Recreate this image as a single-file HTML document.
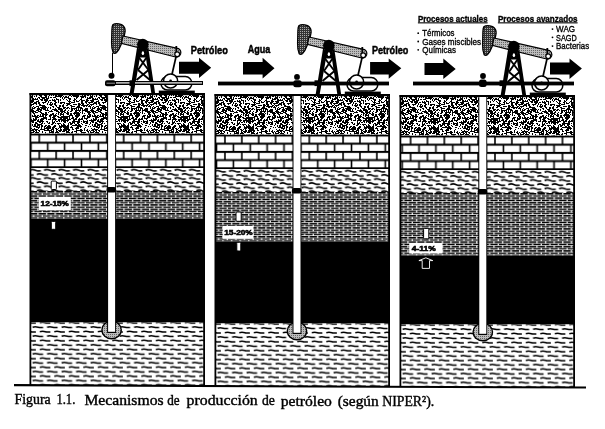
<!DOCTYPE html>
<html><head><meta charset="utf-8"><style>
html,body{margin:0;padding:0;background:#fff;overflow:hidden}
svg{display:block;filter:grayscale(1)}
text{white-space:pre}
</style></head><body>
<svg width="605" height="429" viewBox="0 0 605 429">

<defs>
<pattern id="gran" patternUnits="userSpaceOnUse" width="60" height="40" x="0" y="95">
<rect width="60" height="40" fill="#fff"/><path d="M0 0h3v1h-3zM9 0h2v1h-2zM12 0h7v1h-7zM22 0h1v1h-1zM24 0h2v1h-2zM27 0h2v1h-2zM30 0h1v1h-1zM32 0h1v1h-1zM36 0h1v1h-1zM39 0h3v1h-3zM44 0h3v1h-3zM49 0h1v1h-1zM51 0h1v1h-1zM53 0h1v1h-1zM55 0h2v1h-2zM58 0h2v1h-2zM0 1h2v1h-2zM3 1h1v1h-1zM5 1h2v1h-2zM8 1h1v1h-1zM11 1h1v1h-1zM13 1h6v1h-6zM20 1h6v1h-6zM30 1h3v1h-3zM34 1h1v1h-1zM36 1h1v1h-1zM40 1h2v1h-2zM45 1h2v1h-2zM48 1h1v1h-1zM55 1h5v1h-5zM0 2h1v1h-1zM2 2h1v1h-1zM4 2h5v1h-5zM16 2h2v1h-2zM21 2h3v1h-3zM25 2h1v1h-1zM27 2h1v1h-1zM29 2h4v1h-4zM38 2h2v1h-2zM41 2h6v1h-6zM48 2h1v1h-1zM50 2h2v1h-2zM53 2h3v1h-3zM2 3h1v1h-1zM4 3h1v1h-1zM8 3h3v1h-3zM14 3h1v1h-1zM16 3h1v1h-1zM21 3h1v1h-1zM27 3h4v1h-4zM32 3h2v1h-2zM35 3h1v1h-1zM37 3h1v1h-1zM39 3h1v1h-1zM42 3h3v1h-3zM46 3h3v1h-3zM56 3h1v1h-1zM0 4h1v1h-1zM3 4h1v1h-1zM6 4h1v1h-1zM9 4h2v1h-2zM14 4h2v1h-2zM20 4h2v1h-2zM26 4h2v1h-2zM32 4h6v1h-6zM40 4h3v1h-3zM44 4h4v1h-4zM52 4h1v1h-1zM54 4h1v1h-1zM56 4h3v1h-3zM0 5h1v1h-1zM7 5h1v1h-1zM9 5h1v1h-1zM13 5h2v1h-2zM16 5h1v1h-1zM19 5h1v1h-1zM21 5h4v1h-4zM26 5h3v1h-3zM30 5h4v1h-4zM38 5h1v1h-1zM41 5h2v1h-2zM44 5h4v1h-4zM49 5h2v1h-2zM52 5h4v1h-4zM58 5h1v1h-1zM8 6h3v1h-3zM14 6h1v1h-1zM16 6h3v1h-3zM21 6h2v1h-2zM25 6h3v1h-3zM31 6h3v1h-3zM36 6h3v1h-3zM45 6h2v1h-2zM48 6h1v1h-1zM54 6h2v1h-2zM58 6h1v1h-1zM0 7h5v1h-5zM9 7h1v1h-1zM11 7h4v1h-4zM21 7h2v1h-2zM25 7h2v1h-2zM28 7h5v1h-5zM34 7h3v1h-3zM38 7h2v1h-2zM42 7h4v1h-4zM48 7h1v1h-1zM50 7h2v1h-2zM55 7h2v1h-2zM58 7h1v1h-1zM0 8h2v1h-2zM4 8h1v1h-1zM6 8h5v1h-5zM18 8h2v1h-2zM21 8h3v1h-3zM26 8h1v1h-1zM29 8h1v1h-1zM33 8h4v1h-4zM38 8h2v1h-2zM43 8h1v1h-1zM47 8h1v1h-1zM50 8h1v1h-1zM52 8h1v1h-1zM54 8h2v1h-2zM3 9h1v1h-1zM7 9h3v1h-3zM13 9h4v1h-4zM18 9h3v1h-3zM22 9h2v1h-2zM27 9h2v1h-2zM30 9h4v1h-4zM36 9h1v1h-1zM39 9h2v1h-2zM47 9h1v1h-1zM49 9h4v1h-4zM54 9h2v1h-2zM0 10h1v1h-1zM2 10h2v1h-2zM6 10h2v1h-2zM10 10h2v1h-2zM18 10h2v1h-2zM21 10h7v1h-7zM29 10h1v1h-1zM31 10h1v1h-1zM39 10h6v1h-6zM50 10h2v1h-2zM55 10h2v1h-2zM59 10h1v1h-1zM0 11h1v1h-1zM2 11h2v1h-2zM11 11h4v1h-4zM17 11h3v1h-3zM23 11h2v1h-2zM26 11h1v1h-1zM28 11h3v1h-3zM33 11h1v1h-1zM36 11h3v1h-3zM42 11h4v1h-4zM52 11h2v1h-2zM56 11h1v1h-1zM59 11h1v1h-1zM3 12h3v1h-3zM7 12h2v1h-2zM11 12h1v1h-1zM16 12h6v1h-6zM30 12h1v1h-1zM32 12h1v1h-1zM34 12h2v1h-2zM38 12h1v1h-1zM40 12h7v1h-7zM48 12h1v1h-1zM50 12h1v1h-1zM53 12h1v1h-1zM57 12h3v1h-3zM0 13h2v1h-2zM3 13h2v1h-2zM6 13h2v1h-2zM9 13h1v1h-1zM11 13h6v1h-6zM18 13h1v1h-1zM20 13h3v1h-3zM25 13h3v1h-3zM30 13h1v1h-1zM32 13h3v1h-3zM37 13h3v1h-3zM41 13h5v1h-5zM47 13h1v1h-1zM50 13h1v1h-1zM55 13h1v1h-1zM58 13h2v1h-2zM0 14h3v1h-3zM5 14h1v1h-1zM11 14h2v1h-2zM14 14h1v1h-1zM16 14h1v1h-1zM18 14h1v1h-1zM20 14h1v1h-1zM22 14h1v1h-1zM24 14h4v1h-4zM31 14h2v1h-2zM37 14h5v1h-5zM43 14h3v1h-3zM47 14h1v1h-1zM52 14h5v1h-5zM58 14h2v1h-2zM0 15h3v1h-3zM4 15h2v1h-2zM8 15h1v1h-1zM11 15h2v1h-2zM15 15h6v1h-6zM22 15h6v1h-6zM30 15h4v1h-4zM36 15h3v1h-3zM40 15h2v1h-2zM45 15h4v1h-4zM51 15h1v1h-1zM54 15h4v1h-4zM0 16h5v1h-5zM7 16h1v1h-1zM10 16h2v1h-2zM15 16h2v1h-2zM19 16h1v1h-1zM22 16h1v1h-1zM25 16h5v1h-5zM31 16h5v1h-5zM38 16h3v1h-3zM49 16h4v1h-4zM56 16h3v1h-3zM1 17h2v1h-2zM4 17h2v1h-2zM7 17h2v1h-2zM14 17h5v1h-5zM20 17h1v1h-1zM22 17h1v1h-1zM27 17h4v1h-4zM32 17h2v1h-2zM35 17h3v1h-3zM40 17h2v1h-2zM45 17h2v1h-2zM48 17h1v1h-1zM58 17h2v1h-2zM0 18h2v1h-2zM3 18h1v1h-1zM6 18h3v1h-3zM10 18h2v1h-2zM13 18h7v1h-7zM22 18h1v1h-1zM24 18h1v1h-1zM28 18h2v1h-2zM33 18h2v1h-2zM41 18h3v1h-3zM45 18h2v1h-2zM52 18h2v1h-2zM56 18h1v1h-1zM58 18h1v1h-1zM0 19h4v1h-4zM7 19h2v1h-2zM10 19h2v1h-2zM14 19h1v1h-1zM16 19h4v1h-4zM28 19h3v1h-3zM34 19h1v1h-1zM40 19h1v1h-1zM42 19h6v1h-6zM50 19h4v1h-4zM55 19h1v1h-1zM58 19h1v1h-1zM0 20h1v1h-1zM3 20h1v1h-1zM9 20h4v1h-4zM15 20h5v1h-5zM23 20h3v1h-3zM27 20h1v1h-1zM29 20h2v1h-2zM32 20h1v1h-1zM34 20h2v1h-2zM37 20h2v1h-2zM40 20h1v1h-1zM42 20h2v1h-2zM45 20h2v1h-2zM49 20h3v1h-3zM53 20h4v1h-4zM1 21h9v1h-9zM12 21h1v1h-1zM15 21h4v1h-4zM22 21h3v1h-3zM27 21h4v1h-4zM32 21h6v1h-6zM39 21h5v1h-5zM45 21h1v1h-1zM49 21h2v1h-2zM53 21h3v1h-3zM57 21h2v1h-2zM0 22h8v1h-8zM9 22h1v1h-1zM12 22h2v1h-2zM16 22h2v1h-2zM22 22h1v1h-1zM24 22h1v1h-1zM27 22h3v1h-3zM35 22h4v1h-4zM43 22h4v1h-4zM50 22h1v1h-1zM52 22h3v1h-3zM58 22h2v1h-2zM0 23h2v1h-2zM3 23h5v1h-5zM9 23h1v1h-1zM11 23h3v1h-3zM15 23h2v1h-2zM19 23h1v1h-1zM21 23h2v1h-2zM24 23h4v1h-4zM33 23h1v1h-1zM35 23h2v1h-2zM41 23h6v1h-6zM50 23h1v1h-1zM53 23h3v1h-3zM0 24h6v1h-6zM7 24h4v1h-4zM13 24h4v1h-4zM18 24h5v1h-5zM26 24h1v1h-1zM31 24h1v1h-1zM33 24h4v1h-4zM38 24h1v1h-1zM40 24h4v1h-4zM46 24h1v1h-1zM48 24h3v1h-3zM52 24h5v1h-5zM58 24h2v1h-2zM1 25h8v1h-8zM13 25h2v1h-2zM18 25h2v1h-2zM23 25h1v1h-1zM27 25h1v1h-1zM29 25h7v1h-7zM37 25h2v1h-2zM40 25h3v1h-3zM52 25h1v1h-1zM55 25h1v1h-1zM58 25h2v1h-2zM1 26h1v1h-1zM3 26h3v1h-3zM7 26h1v1h-1zM12 26h8v1h-8zM21 26h1v1h-1zM23 26h5v1h-5zM31 26h3v1h-3zM37 26h7v1h-7zM46 26h2v1h-2zM52 26h1v1h-1zM54 26h1v1h-1zM56 26h2v1h-2zM59 26h1v1h-1zM4 27h2v1h-2zM9 27h2v1h-2zM12 27h3v1h-3zM17 27h3v1h-3zM23 27h2v1h-2zM26 27h2v1h-2zM30 27h1v1h-1zM32 27h2v1h-2zM35 27h2v1h-2zM39 27h2v1h-2zM42 27h1v1h-1zM47 27h1v1h-1zM49 27h1v1h-1zM52 27h3v1h-3zM0 28h1v1h-1zM3 28h1v1h-1zM8 28h1v1h-1zM10 28h3v1h-3zM14 28h1v1h-1zM17 28h2v1h-2zM21 28h1v1h-1zM25 28h3v1h-3zM30 28h1v1h-1zM35 28h3v1h-3zM41 28h2v1h-2zM44 28h1v1h-1zM48 28h2v1h-2zM52 28h2v1h-2zM55 28h1v1h-1zM57 28h3v1h-3zM1 29h1v1h-1zM3 29h2v1h-2zM8 29h1v1h-1zM10 29h2v1h-2zM15 29h2v1h-2zM18 29h2v1h-2zM22 29h1v1h-1zM29 29h1v1h-1zM32 29h1v1h-1zM34 29h2v1h-2zM37 29h5v1h-5zM51 29h2v1h-2zM58 29h1v1h-1zM1 30h5v1h-5zM7 30h2v1h-2zM12 30h9v1h-9zM25 30h2v1h-2zM32 30h1v1h-1zM34 30h2v1h-2zM37 30h3v1h-3zM41 30h2v1h-2zM45 30h2v1h-2zM48 30h2v1h-2zM54 30h2v1h-2zM59 30h1v1h-1zM0 31h9v1h-9zM11 31h1v1h-1zM17 31h5v1h-5zM28 31h1v1h-1zM30 31h1v1h-1zM33 31h5v1h-5zM39 31h1v1h-1zM41 31h2v1h-2zM44 31h2v1h-2zM47 31h4v1h-4zM53 31h3v1h-3zM59 31h1v1h-1zM0 32h2v1h-2zM3 32h6v1h-6zM10 32h3v1h-3zM16 32h3v1h-3zM20 32h1v1h-1zM25 32h1v1h-1zM36 32h4v1h-4zM41 32h1v1h-1zM44 32h1v1h-1zM46 32h5v1h-5zM52 32h3v1h-3zM59 32h1v1h-1zM0 33h1v1h-1zM4 33h5v1h-5zM12 33h1v1h-1zM15 33h4v1h-4zM24 33h1v1h-1zM31 33h1v1h-1zM34 33h1v1h-1zM38 33h1v1h-1zM41 33h1v1h-1zM44 33h7v1h-7zM52 33h2v1h-2zM55 33h2v1h-2zM58 33h1v1h-1zM0 34h2v1h-2zM3 34h7v1h-7zM12 34h2v1h-2zM16 34h1v1h-1zM20 34h2v1h-2zM24 34h1v1h-1zM27 34h1v1h-1zM32 34h6v1h-6zM40 34h5v1h-5zM47 34h2v1h-2zM51 34h3v1h-3zM56 34h2v1h-2zM0 35h2v1h-2zM3 35h4v1h-4zM8 35h2v1h-2zM16 35h7v1h-7zM24 35h1v1h-1zM26 35h2v1h-2zM29 35h1v1h-1zM31 35h3v1h-3zM35 35h2v1h-2zM38 35h2v1h-2zM44 35h8v1h-8zM53 35h1v1h-1zM56 35h1v1h-1zM58 35h2v1h-2zM0 36h1v1h-1zM2 36h3v1h-3zM6 36h3v1h-3zM12 36h1v1h-1zM14 36h3v1h-3zM20 36h2v1h-2zM27 36h2v1h-2zM30 36h1v1h-1zM33 36h2v1h-2zM36 36h1v1h-1zM39 36h1v1h-1zM42 36h1v1h-1zM49 36h1v1h-1zM51 36h3v1h-3zM56 36h2v1h-2zM59 36h1v1h-1zM6 37h4v1h-4zM11 37h2v1h-2zM16 37h1v1h-1zM21 37h5v1h-5zM28 37h1v1h-1zM30 37h4v1h-4zM35 37h4v1h-4zM42 37h1v1h-1zM45 37h1v1h-1zM49 37h5v1h-5zM55 37h4v1h-4zM1 38h4v1h-4zM6 38h1v1h-1zM9 38h4v1h-4zM15 38h4v1h-4zM23 38h2v1h-2zM28 38h4v1h-4zM34 38h6v1h-6zM45 38h1v1h-1zM49 38h1v1h-1zM52 38h2v1h-2zM55 38h1v1h-1zM57 38h3v1h-3zM1 39h2v1h-2zM4 39h2v1h-2zM8 39h3v1h-3zM12 39h1v1h-1zM14 39h6v1h-6zM21 39h1v1h-1zM24 39h3v1h-3zM31 39h4v1h-4zM36 39h3v1h-3zM40 39h9v1h-9zM50 39h4v1h-4zM56 39h4v1h-4z" fill="#000"/></pattern>
<pattern id="brick0" patternUnits="userSpaceOnUse" width="16.877" height="16.4" x="39.3" y="133.5">
<rect width="16.877" height="16.4" fill="#000"/>
<rect x="0.8" y="2" width="15.277" height="6.2" fill="#fff"/>
<rect x="-7.64" y="10.2" width="15.277" height="6.2" fill="#fff"/>
<rect x="9.24" y="10.2" width="15.277" height="6.2" fill="#fff"/>
</pattern>
<pattern id="brick1" patternUnits="userSpaceOnUse" width="16.877" height="16.4" x="-145.7" y="133.5">
<rect width="16.877" height="16.4" fill="#000"/>
<rect x="0.8" y="2" width="15.277" height="6.2" fill="#fff"/>
<rect x="-7.64" y="10.2" width="15.277" height="6.2" fill="#fff"/>
<rect x="9.24" y="10.2" width="15.277" height="6.2" fill="#fff"/>
</pattern>
<pattern id="brick2" patternUnits="userSpaceOnUse" width="16.877" height="16.4" x="-330.7" y="133.5">
<rect width="16.877" height="16.4" fill="#000"/>
<rect x="0.8" y="2" width="15.277" height="6.2" fill="#fff"/>
<rect x="-7.64" y="10.2" width="15.277" height="6.2" fill="#fff"/>
<rect x="9.24" y="10.2" width="15.277" height="6.2" fill="#fff"/>
</pattern>
<pattern id="wavy" patternUnits="userSpaceOnUse" width="14.5" height="8.20" x="0" y="168.35"><rect width="14.5" height="8.20" fill="#fff"/><path d="M0.6 2.05 c1.6 -1.0 4 -1.0 6 0 s3.6 0.6 5.3 0.4 M-6.65 6.15 c1.6 -1.0 4 -1.0 6 0 s3.6 0.6 5.3 0.4 M7.85 6.15 c1.6 -1.0 4 -1.0 6 0 s3.6 0.6 5.3 0.4" stroke="#000" stroke-width="1.45" fill="none"/></pattern>
<pattern id="wavy2" patternUnits="userSpaceOnUse" width="14.5" height="8.90" x="3" y="325.07"><rect width="14.5" height="8.90" fill="#fff"/><path d="M0.6 2.23 c1.5 -0.55 3.8 -0.55 5.6 0 s3.3 0.3 4.9 0.2 M-6.65 6.68 c1.5 -0.55 3.8 -0.55 5.6 0 s3.3 0.3 4.9 0.2 M7.85 6.68 c1.5 -0.55 3.8 -0.55 5.6 0 s3.3 0.3 4.9 0.2" stroke="#000" stroke-width="1.45" fill="none"/></pattern>
<pattern id="dense" patternUnits="userSpaceOnUse" width="17.2" height="4.4" x="0" y="191">
<rect width="17.2" height="4.4" fill="#000"/>
<rect y="1.5" width="17.2" height="0.7" fill="#fff"/>
<rect y="3.7" width="17.2" height="0.7" fill="#fff"/>
<rect x="3" y="0" width="1.2" height="2.2" fill="#fff"/>
<rect x="11.6" y="0" width="1.2" height="2.2" fill="#fff"/>
<rect x="7.3" y="2.2" width="1.2" height="2.2" fill="#fff"/>
<rect x="15.9" y="2.2" width="1.2" height="2.2" fill="#fff"/>
</pattern>
<pattern id="dots" patternUnits="userSpaceOnUse" width="2" height="2">
<rect width="2" height="2" fill="#333"/><rect width="1" height="1" fill="#aaa"/>
</pattern>
<pattern id="ldots" patternUnits="userSpaceOnUse" width="2" height="2">
<rect width="2" height="2" fill="#bbb"/><rect width="1" height="1" fill="#666"/>
</pattern>
</defs>
<rect width="605" height="429" fill="#fff"/>
<g>
<g transform="translate(0 0)">
<rect x="30" y="94.5" width="174.5" height="39.0" fill="url(#gran)"/>
<rect x="30" y="133.5" width="174.5" height="34.69999999999999" fill="url(#brick0)"/>
<rect x="30" y="168.2" width="174.5" height="22.80000000000001" fill="url(#wavy)"/>
<rect x="30" y="191" width="174.5" height="27.69999999999999" fill="url(#dense)"/>
<rect x="30" y="218.7" width="174.5" height="103.80000000000001" fill="#000"/>
<rect x="30" y="322.5" width="174.5" height="62.5" fill="url(#wavy2)"/>
<rect x="29.5" y="93" width="175.5" height="2.2" fill="#000"/>
<rect x="29.5" y="93" width="1.8" height="292" fill="#000"/>
<rect x="203.2" y="93" width="1.8" height="292" fill="#000"/>
<ellipse cx="111.6" cy="330" rx="9.7" ry="8.8" fill="url(#ldots)" stroke="#000" stroke-width="1.4"/>
<rect x="107.1" y="95" width="8.9" height="238" fill="#000"/>
<rect x="108.1" y="95" width="7.0" height="236.8" fill="#fff"/>
<rect x="106.5" y="187" width="9.6" height="5.6" rx="2" fill="#000"/>
</g>
<g transform="translate(0 0)">
<path d="M112.8 24.8 Q115.8 22.6 121.6 24.6 Q125.6 27 125.1 31.5 L124.1 36.5 L121.1 44.4 Q119 50 116.7 52.4 Q114.6 54 113.2 52.7 Q111.4 48 111.6 42.5 L111.9 29.7 Q112 26 112.8 24.8Z" fill="url(#dots)" stroke="#000" stroke-width="1.3"/>
<path d="M123 36 L178.5 48.6 Q181.6 50.6 180.6 54 Q179 57.4 175.6 57 L121.3 43.4Z" fill="url(#ldots)" stroke="#000" stroke-width="1.2"/>
<path d="M137.3 46 L129.6 93.8 L133.6 93.8 L140.8 53Z" fill="#000"/>
<path d="M148 46 L155.2 93.8 L151.4 93.8 L145.4 54.6Z" fill="#000"/>
<path d="M138.5 46 L147 46 L146.6 57.5 L139 57.5Z" fill="#000"/>
<ellipse cx="142.9" cy="53.2" rx="1.2" ry="1.9" fill="#fff"/>
<path d="M139 57.5 L148.5 70 M146.5 57.5 L138 70 M138 70 L150 80 M148.5 70 L136.5 80" stroke="#000" stroke-width="1.9" fill="none"/>
<circle cx="142.8" cy="44.6" r="5.8" fill="#000"/>
<rect x="175.4" y="46" width="1.8" height="6" fill="#000"/>
<circle cx="177.2" cy="54.2" r="2.4" fill="#fff" stroke="#000" stroke-width="1.2"/>
<path d="M176.2 56 L170.6 80.5" stroke="#000" stroke-width="1.7"/>
<rect x="161" y="76.6" width="30.8" height="13.4" rx="6.5" fill="#fff" stroke="#000" stroke-width="1.5"/>
<circle cx="170.6" cy="81" r="7" fill="#fff" stroke="#000" stroke-width="1.6"/>
<circle cx="170.6" cy="81" r="1.4" fill="#000"/>
<rect x="158.8" y="90.6" width="36" height="3.6" fill="#000"/>
</g>
<g transform="translate(185 1)">
<rect x="30" y="94.5" width="174.5" height="39.0" fill="url(#gran)"/>
<rect x="30" y="133.5" width="174.5" height="34.69999999999999" fill="url(#brick1)"/>
<rect x="30" y="168.2" width="174.5" height="22.80000000000001" fill="url(#wavy)"/>
<rect x="30" y="191" width="174.5" height="49.400000000000006" fill="url(#dense)"/>
<rect x="30" y="240.4" width="174.5" height="82.1" fill="#000"/>
<rect x="30" y="322.5" width="174.5" height="62.5" fill="url(#wavy2)"/>
<rect x="29.5" y="93" width="175.5" height="2.2" fill="#000"/>
<rect x="29.5" y="93" width="1.8" height="292" fill="#000"/>
<rect x="203.2" y="93" width="1.8" height="292" fill="#000"/>
<ellipse cx="112.0" cy="330" rx="9.7" ry="8.8" fill="url(#ldots)" stroke="#000" stroke-width="1.4"/>
<rect x="107.5" y="95" width="8.9" height="238" fill="#000"/>
<rect x="108.5" y="95" width="7.0" height="236.8" fill="#fff"/>
<rect x="106.9" y="187" width="9.6" height="5.6" rx="2" fill="#000"/>
</g>
<g transform="translate(186 1)">
<path d="M112.8 24.8 Q115.8 22.6 121.6 24.6 Q125.6 27 125.1 31.5 L124.1 36.5 L121.1 44.4 Q119 50 116.7 52.4 Q114.6 54 113.2 52.7 Q111.4 48 111.6 42.5 L111.9 29.7 Q112 26 112.8 24.8Z" fill="url(#dots)" stroke="#000" stroke-width="1.3"/>
<path d="M123 36 L178.5 48.6 Q181.6 50.6 180.6 54 Q179 57.4 175.6 57 L121.3 43.4Z" fill="url(#ldots)" stroke="#000" stroke-width="1.2"/>
<path d="M137.3 46 L129.6 93.8 L133.6 93.8 L140.8 53Z" fill="#000"/>
<path d="M148 46 L155.2 93.8 L151.4 93.8 L145.4 54.6Z" fill="#000"/>
<path d="M138.5 46 L147 46 L146.6 57.5 L139 57.5Z" fill="#000"/>
<ellipse cx="142.9" cy="53.2" rx="1.2" ry="1.9" fill="#fff"/>
<path d="M139 57.5 L148.5 70 M146.5 57.5 L138 70 M138 70 L150 80 M148.5 70 L136.5 80" stroke="#000" stroke-width="1.9" fill="none"/>
<circle cx="142.8" cy="44.6" r="5.8" fill="#000"/>
<rect x="175.4" y="46" width="1.8" height="6" fill="#000"/>
<circle cx="177.2" cy="54.2" r="2.4" fill="#fff" stroke="#000" stroke-width="1.2"/>
<path d="M176.2 56 L170.6 80.5" stroke="#000" stroke-width="1.7"/>
<rect x="161" y="76.6" width="30.8" height="13.4" rx="6.5" fill="#fff" stroke="#000" stroke-width="1.5"/>
<circle cx="170.6" cy="81" r="7" fill="#fff" stroke="#000" stroke-width="1.6"/>
<circle cx="170.6" cy="81" r="1.4" fill="#000"/>
<rect x="158.8" y="90.6" width="36" height="3.6" fill="#000"/>
</g>
<g transform="translate(370 2)">
<rect x="30" y="94.5" width="174.5" height="39.0" fill="url(#gran)"/>
<rect x="30" y="133.5" width="174.5" height="34.69999999999999" fill="url(#brick2)"/>
<rect x="30" y="168.2" width="174.5" height="22.80000000000001" fill="url(#wavy)"/>
<rect x="30" y="191" width="174.5" height="62.5" fill="url(#dense)"/>
<rect x="30" y="253.5" width="174.5" height="69.0" fill="#000"/>
<rect x="30" y="322.5" width="174.5" height="62.5" fill="url(#wavy2)"/>
<rect x="29.5" y="93" width="175.5" height="2.2" fill="#000"/>
<rect x="29.5" y="93" width="1.8" height="292" fill="#000"/>
<rect x="203.2" y="93" width="1.8" height="292" fill="#000"/>
<ellipse cx="112.8" cy="330" rx="9.7" ry="8.8" fill="url(#ldots)" stroke="#000" stroke-width="1.4"/>
<rect x="108.3" y="95" width="8.9" height="238" fill="#000"/>
<rect x="109.3" y="95" width="7.0" height="236.8" fill="#fff"/>
<rect x="107.7" y="187" width="9.6" height="5.6" rx="2" fill="#000"/>
</g>
<g transform="translate(371 2)">
<path d="M112.8 24.8 Q115.8 22.6 121.6 24.6 Q125.6 27 125.1 31.5 L124.1 36.5 L121.1 44.4 Q119 50 116.7 52.4 Q114.6 54 113.2 52.7 Q111.4 48 111.6 42.5 L111.9 29.7 Q112 26 112.8 24.8Z" fill="url(#dots)" stroke="#000" stroke-width="1.3"/>
<path d="M123 36 L178.5 48.6 Q181.6 50.6 180.6 54 Q179 57.4 175.6 57 L121.3 43.4Z" fill="url(#ldots)" stroke="#000" stroke-width="1.2"/>
<path d="M137.3 46 L129.6 93.8 L133.6 93.8 L140.8 53Z" fill="#000"/>
<path d="M148 46 L155.2 93.8 L151.4 93.8 L145.4 54.6Z" fill="#000"/>
<path d="M138.5 46 L147 46 L146.6 57.5 L139 57.5Z" fill="#000"/>
<ellipse cx="142.9" cy="53.2" rx="1.2" ry="1.9" fill="#fff"/>
<path d="M139 57.5 L148.5 70 M146.5 57.5 L138 70 M138 70 L150 80 M148.5 70 L136.5 80" stroke="#000" stroke-width="1.9" fill="none"/>
<circle cx="142.8" cy="44.6" r="5.8" fill="#000"/>
<rect x="175.4" y="46" width="1.8" height="6" fill="#000"/>
<circle cx="177.2" cy="54.2" r="2.4" fill="#fff" stroke="#000" stroke-width="1.2"/>
<path d="M176.2 56 L170.6 80.5" stroke="#000" stroke-width="1.7"/>
<rect x="161" y="76.6" width="30.8" height="13.4" rx="6.5" fill="#fff" stroke="#000" stroke-width="1.5"/>
<circle cx="170.6" cy="81" r="7" fill="#fff" stroke="#000" stroke-width="1.6"/>
<circle cx="170.6" cy="81" r="1.4" fill="#000"/>
<rect x="158.8" y="90.6" width="36" height="3.6" fill="#000"/>
</g>
<g><path d="M112.5 53 V73" stroke="#000" stroke-width="1"/>
<circle cx="111.5" cy="75.7" r="3" fill="#000"/>
<rect x="115" y="81" width="88" height="4" fill="#000"/><rect x="116" y="82.3" width="86" height="1.2" fill="#fff"/>
<rect x="105" y="80.3" width="10.5" height="6" rx="2" fill="#000"/><path d="M106.5 83.2H115" stroke="#fff" stroke-width="0.6"/>
<rect x="129.5" y="80.3" width="5.5" height="5.8" fill="#000"/>
<path d="M179 61.7H199V57.7L211.2 67.7L199 78V73.7H179Z" fill="#000"/>
<text x="190.8" y="54" font-family="Liberation Sans" font-weight="bold" font-size="11.5" stroke="#000" stroke-width="0.5" textLength="37" lengthAdjust="spacingAndGlyphs">Petróleo</text>
<rect x="38.8" y="196.9" width="32" height="13.1" fill="#fff"/><text x="40.6" y="206.3" font-family="Liberation Sans" font-weight="bold" font-size="7" stroke="#000" stroke-width="0.55" textLength="28.2" lengthAdjust="spacingAndGlyphs">12-15%</text>
<rect x="51.2" y="181.1" width="5.2" height="8.4" rx="1" fill="#fff" stroke="#000" stroke-width="1"/>
<rect x="51.3" y="221.4" width="4.4" height="7.9" rx="1" fill="#fff" stroke="#000" stroke-width="1"/></g>
<g transform="translate(185 0)"><rect x="33" y="81.6" width="171" height="3.8" fill="#000"/>
<circle cx="112" cy="76.9" r="2.9" fill="#000"/>
<rect x="108.3" y="80.3" width="8.4" height="7" rx="2.5" fill="#000"/>
<rect x="129.5" y="80.3" width="5.5" height="5.8" fill="#000"/>
<path d="M58 62H77.6V57.8L89.5 68.2L77.6 78.6V74.4H58Z" fill="#000"/>
<path d="M185.1 62H203.7V58.5L216.3 68.3L203.7 78.8V74.6H185.1Z" fill="#000"/>
<text x="62.7" y="53.2" font-family="Liberation Sans" font-weight="bold" font-size="11.5" stroke="#000" stroke-width="0.5" textLength="22.6" lengthAdjust="spacingAndGlyphs">Agua</text>
<text x="186.9" y="53.5" font-family="Liberation Sans" font-weight="bold" font-size="11.5" stroke="#000" stroke-width="0.5" textLength="36.4" lengthAdjust="spacingAndGlyphs">Petróleo</text>
<rect x="37.7" y="226" width="30.8" height="12.8" fill="#fff"/><text x="39.2" y="234.7" font-family="Liberation Sans" font-weight="bold" font-size="7" stroke="#000" stroke-width="0.55" textLength="28.5" lengthAdjust="spacingAndGlyphs">15-20%</text>
<rect x="51" y="212" width="5.2" height="9.3" rx="1" fill="#fff" stroke="#000" stroke-width="1"/>
<rect x="51.8" y="242.3" width="4" height="8.7" rx="1" fill="#fff" stroke="#000" stroke-width="1"/></g>
<g transform="translate(370 0)"><rect x="43" y="81.6" width="161" height="3.8" fill="#000"/>
<circle cx="113" cy="76" r="2.9" fill="#000"/>
<rect x="109" y="79.5" width="7.6" height="7.6" rx="2.5" fill="#000"/>
<rect x="129.5" y="80.3" width="5.5" height="5.8" fill="#000"/>
<path d="M54.5 63H73.3V58.6L85.7 69.0L73.3 79V75H54.5Z" fill="#000"/>
<path d="M180 62.5H199.5V58.6L211.9 68.5L199.5 78.9V74.5H180Z" fill="#000"/>
<rect x="39.2" y="243" width="33.3" height="10.5" fill="#fff"/><text x="41.8" y="251.1" font-family="Liberation Sans" font-weight="bold" font-size="7" stroke="#000" stroke-width="0.55" textLength="24" lengthAdjust="spacingAndGlyphs">4-11%</text>
<path d="M55.85 257.8 L48.9 260.6 L52.2 260.6 L52.2 268.4 L59.5 268.4 L59.5 260.6 L62.8 260.6Z" fill="none" stroke="#fff" stroke-width="0.9"/>
<rect x="53.6" y="228.4" width="5.2" height="10.4" rx="1" fill="#fff" stroke="#000" stroke-width="1"/></g>
<text x="417.9" y="21.50" font-family="Liberation Sans" font-weight="bold" font-size="9.2" stroke="#000" stroke-width="0.35" textLength="69.7" lengthAdjust="spacingAndGlyphs">Procesos actuales</text><rect x="417.9" y="22.30" width="69.7" height="1.1" fill="#000"/>
<text x="497.9" y="21.50" font-family="Liberation Sans" font-weight="bold" font-size="9.2" stroke="#000" stroke-width="0.35" textLength="79.7" lengthAdjust="spacingAndGlyphs">Procesos avanzados</text><rect x="497.9" y="22.30" width="79.7" height="1.1" fill="#000"/>
<text x="422.3" y="36.40" font-family="Liberation Sans" font-weight="normal" font-size="9.6" stroke="#000" stroke-width="0.35" textLength="32.2" lengthAdjust="spacingAndGlyphs">Térmicos</text>
<circle cx="418.2" cy="33.20" r="0.9" fill="#000"/>
<text x="422.3" y="44.70" font-family="Liberation Sans" font-weight="normal" font-size="9.6" stroke="#000" stroke-width="0.35" textLength="58.7" lengthAdjust="spacingAndGlyphs">Gases miscibles</text>
<circle cx="418.2" cy="41.50" r="0.9" fill="#000"/>
<text x="422.3" y="53.00" font-family="Liberation Sans" font-weight="normal" font-size="9.6" stroke="#000" stroke-width="0.35" textLength="33.6" lengthAdjust="spacingAndGlyphs">Químicas</text>
<circle cx="418.2" cy="49.80" r="0.9" fill="#000"/>
<text x="556.1" y="32.30" font-family="Liberation Sans" font-weight="normal" font-size="9.8" stroke="#000" stroke-width="0.35" textLength="19" lengthAdjust="spacingAndGlyphs">WAG</text>
<circle cx="552.5" cy="29.10" r="0.9" fill="#000"/>
<text x="556.1" y="40.50" font-family="Liberation Sans" font-weight="normal" font-size="9.8" stroke="#000" stroke-width="0.35" textLength="20.7" lengthAdjust="spacingAndGlyphs">SAGD</text>
<circle cx="552.5" cy="37.30" r="0.9" fill="#000"/>
<text x="556.1" y="49.30" font-family="Liberation Sans" font-weight="normal" font-size="9.8" stroke="#000" stroke-width="0.35" textLength="33" lengthAdjust="spacingAndGlyphs">Bacterias</text>
<circle cx="552.5" cy="46.10" r="0.9" fill="#000"/>
<path d="M14 384.1 L586 386.6 L586 388.6 L14 386.2Z" fill="#000"/>
<text x="14.5" y="403.92" font-family="Liberation Serif" font-size="14.5" stroke="#000" stroke-width="0.4" textLength="36.2" lengthAdjust="spacingAndGlyphs">Figura</text>
<text x="56.4" y="404.13" font-family="Liberation Serif" font-size="14.5" stroke="#000" stroke-width="0.4" textLength="18.9" lengthAdjust="spacingAndGlyphs">1.1.</text>
<text x="84.4" y="404.51" font-family="Liberation Serif" font-size="14.5" stroke="#000" stroke-width="0.4" textLength="79.19999999999999" lengthAdjust="spacingAndGlyphs">Mecanismos</text>
<text x="167.3" y="404.83" font-family="Liberation Serif" font-size="14.5" stroke="#000" stroke-width="0.4" textLength="12.399999999999977" lengthAdjust="spacingAndGlyphs">de</text>
<text x="186.6" y="405.15" font-family="Liberation Serif" font-size="14.5" stroke="#000" stroke-width="0.4" textLength="71.1" lengthAdjust="spacingAndGlyphs">producción</text>
<text x="261.9" y="405.45" font-family="Liberation Serif" font-size="14.5" stroke="#000" stroke-width="0.4" textLength="12.900000000000034" lengthAdjust="spacingAndGlyphs">de</text>
<text x="280.7" y="405.70" font-family="Liberation Serif" font-size="14.5" stroke="#000" stroke-width="0.4" textLength="51.19999999999999" lengthAdjust="spacingAndGlyphs">petróleo</text>
<text x="337.7" y="406.03" font-family="Liberation Serif" font-size="14.5" stroke="#000" stroke-width="0.4" textLength="41.10000000000002" lengthAdjust="spacingAndGlyphs">(según</text>
<text x="382.3" y="406.36" font-family="Liberation Serif" font-size="14.5" stroke="#000" stroke-width="0.4" textLength="51.89999999999998" lengthAdjust="spacingAndGlyphs">NIPER²).</text>
</g>
</svg>
</body></html>
